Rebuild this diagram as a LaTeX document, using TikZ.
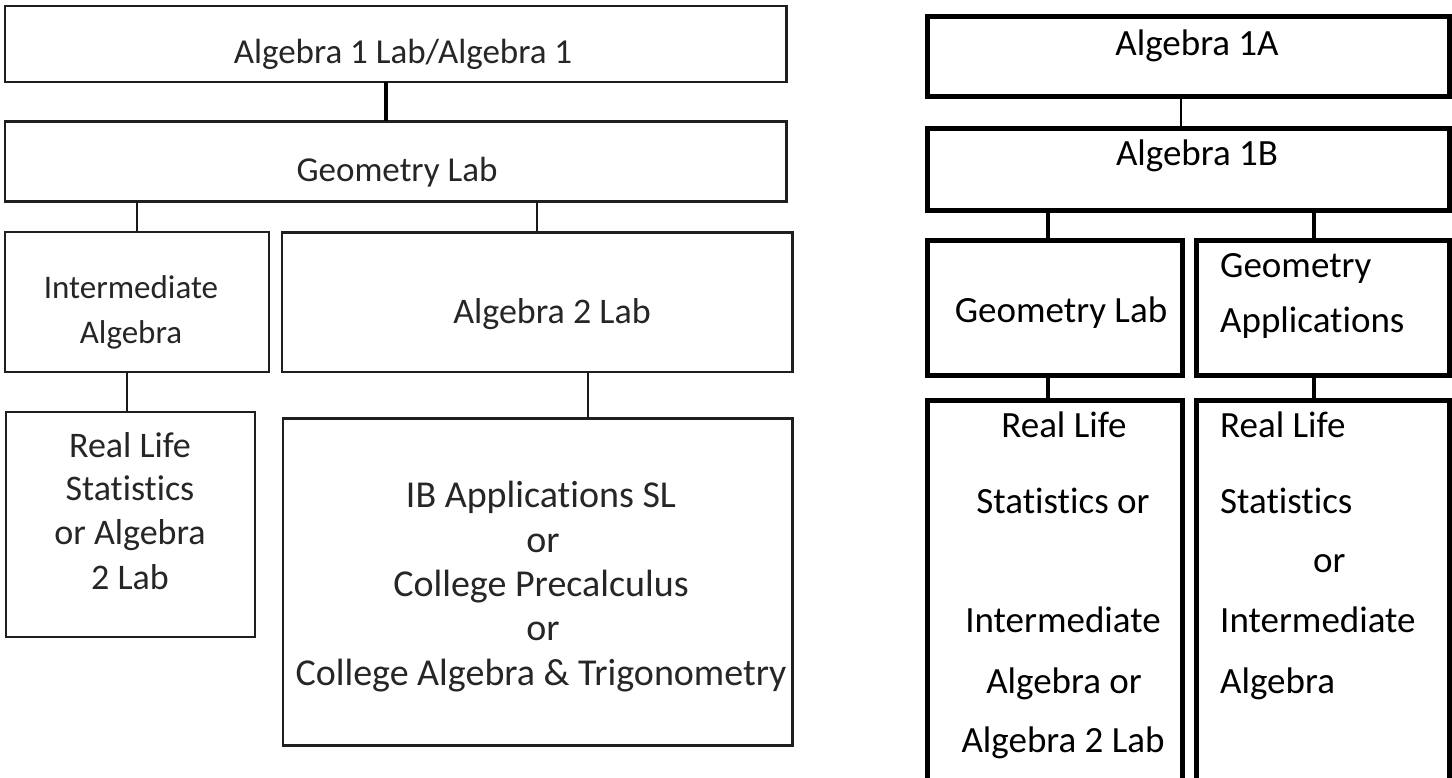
\documentclass[tikz,border=0pt]{standalone}
\usepackage{fontspec}
\setmainfont{Carlito}[Ligatures=NoCommon]
\begin{document}
\begin{tikzpicture}[x=1pt,y=-1pt,
  lbox/.style={draw=black!88, line width=2.4pt, rectangle, outer sep=0pt, inner sep=0pt, anchor=north west},
  rbox/.style={draw=black, line width=5pt, rectangle, outer sep=0pt, inner sep=0pt, anchor=north west},
  ltxt/.style={anchor=base, inner sep=0pt, text=black!85},
  rtxt/.style={anchor=base, inner sep=0pt, text=black, font=\fontsize{37}{44}\selectfont},
  rtxtl/.style={rtxt, anchor=base west},
  lsz/.style={font=\fontsize{#1}{#1}\selectfont},
  thinlink/.style={draw=black!90, line width=1.2pt},
  midlink/.style={draw=black!90, line width=2.4pt},
  boldlink/.style={draw=black, line width=4pt},
  rthin/.style={draw=black, line width=1.8pt},
  rbold/.style={draw=black, line width=4.5pt},
]
\useasboundingbox (0,0) rectangle (1452,777);
\clip (0,0) rectangle (1452,777);
\fill[white] (0,0) rectangle (1452,777);

% ---------- left pathway ----------
\node[lbox, minimum width=781.5pt, minimum height=76pt] (L1) at (5,6) {};
\node[lbox, minimum width=781.5pt, minimum height=80pt] (L2) at (5,121.3) {};
\node[lbox, minimum width=264pt, minimum height=139.7pt] (L3) at (5,232) {};
\node[lbox, minimum width=510.5pt, minimum height=139.2pt] (L4) at (282,232.5) {};
\node[lbox, minimum width=249pt, minimum height=225pt] (L5) at (6,411.7) {};
\node[lbox, minimum width=509.5pt, minimum height=327.2pt] (L6) at (283,418.3) {};

\coordinate (xa) at (386,0);
\coordinate (xb) at (137,0);
\coordinate (xc) at (537,0);
\coordinate (xd) at (127,0);
\coordinate (xe) at (588,0);
\draw[boldlink] (L1.south -| xa) -- (L2.north -| xa);
\draw[thinlink] (L2.south -| xb) -- (L3.north -| xb);
\draw[midlink]  (L2.south -| xc) -- (L4.north -| xc);
\draw[thinlink] (L3.south -| xd) -- (L5.north -| xd);
\draw[thinlink] (L4.south -| xe) -- (L6.north -| xe);

\node[ltxt, lsz=35] (t1) at (403,63) {Algebra 1 Lab/Algebra 1};
\node[ltxt, lsz=35] (t2) at (397,181) {Geometry Lab};
\node[ltxt, lsz=33] (t3a) at (131,298) {Intermediate};
\node[ltxt, lsz=33] (t3b) at (131,343) {Algebra};
\node[ltxt, lsz=36] (t4) at (552,323) {Algebra 2 Lab};
\node[ltxt, lsz=36] (t5a) at (130,457) {Real Life};
\node[ltxt, lsz=36] (t5b) at (130,500) {Statistics};
\node[ltxt, lsz=36] (t5c) at (130,544) {or Algebra};
\node[ltxt, lsz=36] (t5d) at (130,589) {2 Lab};
\node[ltxt, lsz=38] (t6a) at (541,507) {IB Applications SL};
\node[ltxt, lsz=38] (t6b) at (543,552) {or};
\node[ltxt, lsz=38] (t6c) at (541,596) {College Precalculus};
\node[ltxt, lsz=38] (t6d) at (543,640) {or};
\node[ltxt, lsz=38] (t6e) at (541,685) {College Algebra \& Trigonometry};

% ---------- right pathway ----------
\node[rbox, minimum width=522pt, minimum height=80pt] (R1) at (927,16) {};
\node[rbox, minimum width=522pt, minimum height=82pt] (R2) at (927,128.5) {};
\node[rbox, minimum width=255pt, minimum height=135.5pt] (R3) at (927,240) {};
\node[rbox, minimum width=253pt, minimum height=135.5pt] (R4) at (1196,240) {};
\node[rbox, minimum width=255pt, minimum height=400pt] (R5) at (927,400.8) {};
\node[rbox, minimum width=253pt, minimum height=400pt] (R6) at (1196,400.8) {};

\coordinate (xf) at (1181,0);
\coordinate (xg) at (1048,0);
\coordinate (xh) at (1314,0);
\draw[rthin] (R1.south -| xf) -- (R2.north -| xf);
\draw[rbold] (R2.south -| xg) -- (R3.north -| xg);
\draw[rbold] (R2.south -| xh) -- (R4.north -| xh);
\draw[rbold] (R3.south -| xg) -- (R5.north -| xg);
\draw[rbold] (R4.south -| xh) -- (R6.north -| xh);

\node[rtxt] (u1) at (1197,55) {Algebra 1A};
\node[rtxt] (u2) at (1197,165) {Algebra 1B};
\node[rtxt] (u3) at (1061,322) {Geometry Lab};
\node[rtxtl] (u4a) at (1220,277) {Geometry};
\node[rtxtl] (u4b) at (1220,332) {Applications};
\node[rtxt] (u5a) at (1064,437) {Real Life};
\node[rtxt] (u5b) at (1063,513) {Statistics or};
\node[rtxt] (u5c) at (1063,632) {Intermediate};
\node[rtxt] (u5d) at (1064,693) {Algebra or};
\node[rtxt] (u5e) at (1063,752) {Algebra 2 Lab};
\node[rtxtl] (u6a) at (1220,437) {Real Life};
\node[rtxtl] (u6b) at (1220,513) {Statistics};
\node[rtxtl] (u6c) at (1313,572) {or};
\node[rtxtl] (u6d) at (1220,632) {Intermediate};
\node[rtxtl] (u6e) at (1220,693) {Algebra};
\end{tikzpicture}
\end{document}
